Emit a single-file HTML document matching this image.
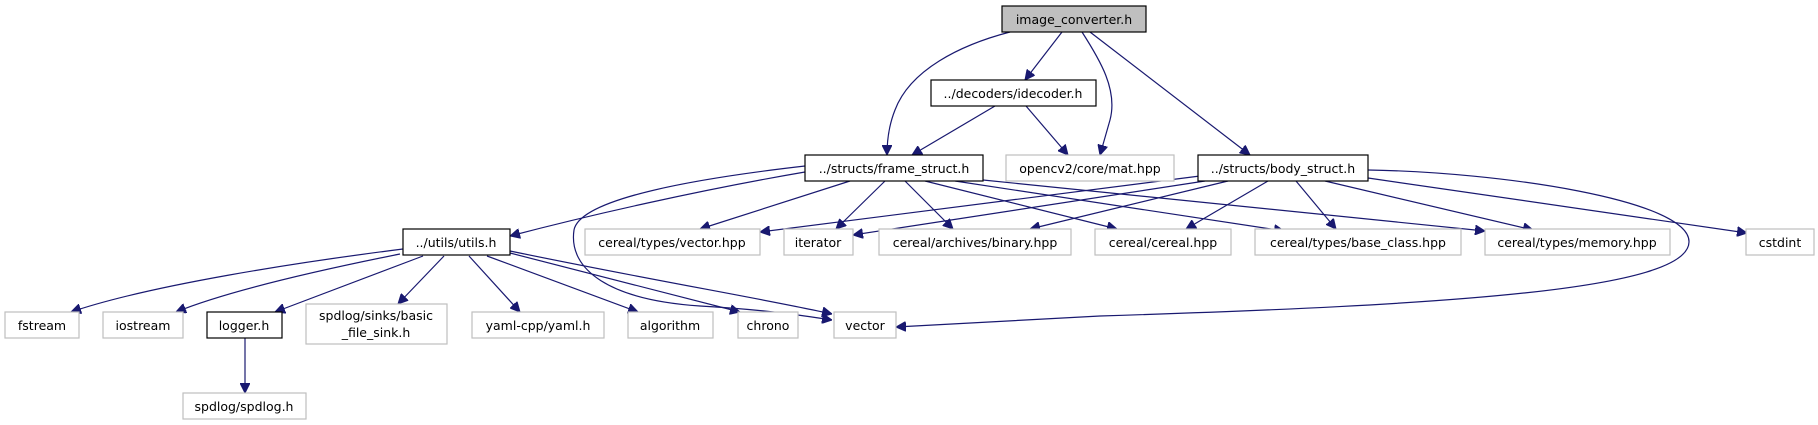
<!DOCTYPE html>
<html><head><meta charset="utf-8"><style>
html,body{margin:0;padding:0;background:#fff;}
svg{display:block;}
text{font-family:"DejaVu Sans","Liberation Sans",sans-serif;font-size:12.5px;fill:#000;text-anchor:middle;}
.e{fill:none;stroke:#191970;stroke-width:1.2;}
.b{fill:#fff;stroke:#000;stroke-width:1.2;}
.g{fill:#fff;stroke:#bfbfbf;stroke-width:1.2;}
</style></head><body>
<svg width="1818" height="425" viewBox="0 0 1818 425" xmlns="http://www.w3.org/2000/svg">
<defs><marker id="a" viewBox="0 0 10 10" refX="10" refY="5" markerWidth="10" markerHeight="10" markerUnits="userSpaceOnUse" orient="auto"><path d="M0,0 L10,5 L0,10 z" fill="#191970" stroke="#191970"/></marker></defs>
<g marker-end="url(#a)">
<path class="e" d="M1010,32 C960,45 910,70 895,110 C889,125 887,140 887,155"/>
<path class="e" d="M1062,32 L1025,80"/>
<path class="e" d="M1082,32 C1100,60 1118,90 1110,120 L1100,155"/>
<path class="e" d="M1090,32 L1250,155"/>
<path class="e" d="M995,106 L912,155"/>
<path class="e" d="M1026,106 L1068,155"/>
<path class="e" d="M805,172 C700,190 590,215 510,236"/>
<path class="e" d="M850,181 L700,229"/>
<path class="e" d="M885,181 L836,229"/>
<path class="e" d="M905,181 L953,229"/>
<path class="e" d="M925,181 L1117,229"/>
<path class="e" d="M955,181 L1284,231"/>
<path class="e" d="M983,180 L1485,231"/>
<path class="e" d="M805,166 C700,178 580,198 574,230 C568,270 610,300 700,306 C770,310 805,316 832,320"/>
<path class="e" d="M1200,176 L760,232"/>
<path class="e" d="M1205,181 L853,235"/>
<path class="e" d="M1228,181 L1030,229"/>
<path class="e" d="M1268,181 L1186,229"/>
<path class="e" d="M1296,181 L1336,229"/>
<path class="e" d="M1325,181 L1533,230"/>
<path class="e" d="M1368,178 L1747,233"/>
<path class="e" d="M1368,170 C1500,172 1690,200 1689,242 C1688,290 1450,305 1100,316 L896,327"/>
<path class="e" d="M403,249 C300,262 150,285 71,312"/>
<path class="e" d="M400,254 C330,268 230,290 176,312"/>
<path class="e" d="M423,256 L275,312"/>
<path class="e" d="M444,256 L398,304"/>
<path class="e" d="M469,256 L520,312"/>
<path class="e" d="M487,256 L638,312"/>
<path class="e" d="M510,253 L740,312"/>
<path class="e" d="M510,251 C650,280 770,300 832,314"/>
<path class="e" d="M245,338 L245,393"/>
</g>
<rect x="1002" y="6" width="144" height="26" fill="#bfbfbf" stroke="#000" stroke-width="1.2"/><text x="1074" y="24">image_converter.h</text>
<rect class="b" x="931" y="80" width="165" height="26"/><text x="1013" y="98">../decoders/idecoder.h</text>
<rect class="b" x="805" y="155" width="178" height="26"/><text x="894" y="173">../structs/frame_struct.h</text>
<rect class="g" x="1006" y="155" width="168" height="26"/><text x="1090" y="173">opencv2/core/mat.hpp</text>
<rect class="b" x="1198" y="155" width="170" height="26"/><text x="1283" y="173">../structs/body_struct.h</text>
<rect class="b" x="403" y="229" width="107" height="26"/><text x="456" y="247">../utils/utils.h</text>
<rect class="g" x="585" y="229" width="175" height="26"/><text x="672" y="247">cereal/types/vector.hpp</text>
<rect class="g" x="784" y="229" width="69" height="26"/><text x="818" y="247">iterator</text>
<rect class="g" x="879" y="229" width="192" height="26"/><text x="975" y="247">cereal/archives/binary.hpp</text>
<rect class="g" x="1095" y="229" width="136" height="26"/><text x="1163" y="247">cereal/cereal.hpp</text>
<rect class="g" x="1255" y="229" width="206" height="26"/><text x="1358" y="247">cereal/types/base_class.hpp</text>
<rect class="g" x="1485" y="229" width="185" height="26"/><text x="1577" y="247">cereal/types/memory.hpp</text>
<rect class="g" x="1746" y="229" width="68" height="26"/><text x="1780" y="247">cstdint</text>
<rect class="g" x="5" y="312" width="74" height="26"/><text x="42" y="330">fstream</text>
<rect class="g" x="103" y="312" width="80" height="26"/><text x="143" y="330">iostream</text>
<rect class="b" x="207" y="312" width="75" height="26"/><text x="244" y="330">logger.h</text>
<rect class="g" x="306" y="304" width="141" height="40"/><text x="376" y="320">spdlog/sinks/basic</text><text x="376" y="337">_file_sink.h</text>
<rect class="g" x="472" y="312" width="132" height="26"/><text x="538" y="330">yaml-cpp/yaml.h</text>
<rect class="g" x="628" y="312" width="85" height="26"/><text x="670" y="330">algorithm</text>
<rect class="g" x="738" y="312" width="60" height="26"/><text x="768" y="330">chrono</text>
<rect class="g" x="834" y="312" width="62" height="26"/><text x="865" y="330">vector</text>
<rect class="g" x="183" y="393" width="123" height="26"/><text x="244" y="411">spdlog/spdlog.h</text>
</svg>
</body></html>
